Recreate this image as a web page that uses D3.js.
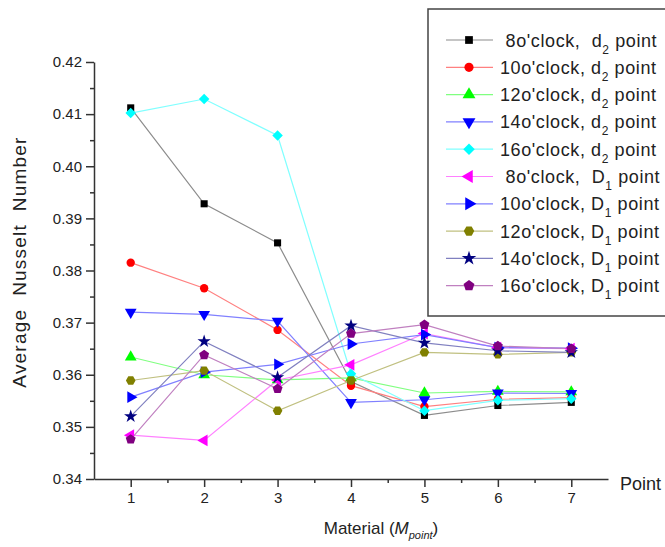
<!DOCTYPE html>
<html>
<head>
<meta charset="utf-8">
<script src="https://cdn.jsdelivr.net/npm/d3@7"></script>
<style>
  body { margin: 0; background: #fff; }
  text { font-family: "Liberation Sans", Arial, sans-serif; fill: #222; }
</style>
</head>
<body>
<div id="chart"></div>
<script>
// data
const points = [1, 2, 3, 4, 5, 6, 7];
const yTicks = [0.34, 0.35, 0.36, 0.37, 0.38, 0.39, 0.40, 0.41, 0.42];

const d2_8  = [0.4112, 0.3928, 0.3853, 0.3587, 0.3522, 0.3541, 0.3547];
const d2_10 = [0.3815, 0.3766, 0.3686, 0.3579, 0.3539, 0.3553, 0.3556];
const d2_12 = [0.3634, 0.3600, 0.3590, 0.3594, 0.3565, 0.3568, 0.3567];
const d2_14 = [0.3720, 0.3716, 0.3703, 0.3547, 0.3552, 0.3565, 0.3564];
const d2_16 = [0.4102, 0.4129, 0.4059, 0.3602, 0.3531, 0.3551, 0.3554];
const D1_8  = [0.3484, 0.3474, 0.3590, 0.3619, 0.3679, 0.3652, 0.3650];
const D1_10 = [0.3557, 0.3605, 0.3620, 0.3659, 0.3677, 0.3652, 0.3651];
const D1_12 = [0.3589, 0.3608, 0.3531, 0.3589, 0.3643, 0.3639, 0.3643];
const D1_14 = [0.3520, 0.3664, 0.3595, 0.3694, 0.3661, 0.3646, 0.3643];
const D1_16 = [0.3476, 0.3638, 0.3573, 0.3679, 0.3696, 0.3655, 0.3650];

// custom polygon symbols (hexagon, pentagon)
function polygon(n, rot) {
  return {
    draw(ctx, size) {
      const r = Math.sqrt(size / (0.5 * n * Math.sin(2 * Math.PI / n)));
      for (let i = 0; i < n; i++) {
        const a = rot + i * 2 * Math.PI / n;
        const px = r * Math.sin(a), py = -r * Math.cos(a);
        if (i === 0) ctx.moveTo(px, py); else ctx.lineTo(px, py);
      }
      ctx.closePath();
    }
  };
}

const series = [
  { hour: "8",  pt: "d", sub: "2", values: d2_8,  color: "#000000", line: "#8c8c8c", sym: d3.symbolSquare, rot: 0, size: 50 },
  { hour: "10", pt: "d", sub: "2", values: d2_10, color: "#ff0000", line: "#ff8080", sym: d3.symbolCircle, rot: 0, size: 55 },
  { hour: "12", pt: "d", sub: "2", values: d2_12, color: "#00ff00", line: "#80ff80", sym: d3.symbolTriangle, rot: 0, size: 60 },
  { hour: "14", pt: "d", sub: "2", values: d2_14, color: "#0000ff", line: "#8080ff", sym: d3.symbolTriangle, rot: 180, size: 60 },
  { hour: "16", pt: "d", sub: "2", values: d2_16, color: "#00ffff", line: "#80ffff", sym: d3.symbolSquare, rot: 45, size: 55 },
  { hour: "8",  pt: "D", sub: "1", values: D1_8,  color: "#ff00ff", line: "#ff80ff", sym: d3.symbolTriangle, rot: -90, size: 60 },
  { hour: "10", pt: "D", sub: "1", values: D1_10, color: "#0000ff", line: "#8080ff", sym: d3.symbolTriangle, rot: 90, size: 60 },
  { hour: "12", pt: "D", sub: "1", values: D1_12, color: "#808000", line: "#c0c080", sym: polygon(6, Math.PI / 6), rot: 0, size: 60 },
  { hour: "14", pt: "D", sub: "1", values: D1_14, color: "#000080", line: "#8080c0", sym: d3.symbolStar, rot: 0, size: 55 },
  { hour: "16", pt: "D", sub: "1", values: D1_16, color: "#800080", line: "#c080c0", sym: polygon(5, 0), rot: 0, size: 65 }
];

const W = 665, H = 547;
const svg = d3.select("#chart").append("svg")
  .attr("width", W).attr("height", H);

const x = d3.scaleLinear().domain([0.5, 7.5]).range([94, 608]);
const y = d3.scaleLinear().domain([0.34, 0.42]).range([479, 62]);

// axes
const axisColor = "#333";

const yMinor = d3.range(0.345, 0.42, 0.01);
svg.append("g")
  .attr("transform", "translate(94,0)")
  .call(d3.axisLeft(y).tickValues(yMinor).tickSize(4).tickFormat(""))
  .call(g => g.select(".domain").remove());

const yAxis = svg.append("g")
  .attr("transform", "translate(94,0)")
  .call(d3.axisLeft(y).tickValues(yTicks).tickSize(8).tickSizeOuter(0).tickPadding(4)
    .tickFormat(d3.format(".2f")));
yAxis.selectAll("text").attr("font-size", 15).attr("font-family", null);

const xMinor = d3.range(1.5, 7, 1);
svg.append("g")
  .attr("transform", "translate(0,479)")
  .call(d3.axisBottom(x).tickValues(xMinor).tickSize(4).tickFormat(""))
  .call(g => g.select(".domain").remove());

const xAxis = svg.append("g")
  .attr("transform", "translate(0,479)")
  .call(d3.axisBottom(x).tickValues(points).tickSize(8).tickSizeOuter(0).tickPadding(5)
    .tickFormat(d3.format("d")));
xAxis.selectAll("text").attr("font-size", 15).attr("font-family", null);

svg.selectAll(".domain, .tick line")
  .attr("stroke", axisColor).attr("stroke-width", 1.5);

// axis titles
svg.append("text")
  .attr("transform", "translate(26,262) rotate(-90)")
  .attr("text-anchor", "middle")
  .attr("font-size", 19)
  .attr("letter-spacing", 1.2)
  .style("white-space", "pre")
  .text("Average  Nusselt  Number");

svg.append("text")
  .attr("x", 620).attr("y", 490)
  .attr("font-size", 18)
  .text("Point");

const xt = svg.append("text")
  .attr("x", 381).attr("y", 534)
  .attr("text-anchor", "middle")
  .attr("font-size", 17);
xt.append("tspan").text("Material (");
xt.append("tspan").attr("font-style", "italic").text("M");
xt.append("tspan").attr("font-style", "italic").attr("font-size", 11).attr("dy", 5).text("point");
xt.append("tspan").attr("dy", -5).text(")");

// lines and markers
const line = d3.line().x((d, i) => x(points[i])).y(d => y(d));

series.forEach(s => {
  svg.append("path")
    .attr("d", line(s.values))
    .attr("fill", "none")
    .attr("stroke", s.line)
    .attr("stroke-width", 1.2);
});

series.forEach(s => {
  const sym = d3.symbol().type(s.sym).size(s.size);
  svg.append("g").selectAll("path")
    .data(s.values)
    .join("path")
    .attr("d", sym)
    .attr("transform", (d, i) => `translate(${x(points[i])},${y(d)}) rotate(${s.rot})`)
    .attr("fill", s.color);
});

// legend
const legend = svg.append("g");
legend.append("rect")
  .attr("x", 428).attr("y", 9)
  .attr("width", 260).attr("height", 307)
  .attr("fill", "#fff")
  .attr("stroke", "#444").attr("stroke-width", 1.5);

series.forEach((s, i) => {
  const ly = 40 + i * 27.3;
  legend.append("line")
    .attr("x1", 446).attr("x2", 493)
    .attr("y1", ly).attr("y2", ly)
    .attr("stroke", s.line).attr("stroke-width", 1.2);
  legend.append("path")
    .attr("d", d3.symbol().type(s.sym).size(s.size * 1.2)())
    .attr("transform", `translate(469,${ly}) rotate(${s.rot})`)
    .attr("fill", s.color);
  const t = legend.append("text")
    .attr("x", 500).attr("y", ly + 6.5)
    .attr("font-size", 18)
    .attr("letter-spacing", 0.6)
    .style("white-space", "pre");
  const lead = s.hour.length === 1 ? " " : "";
  const gap = s.hour.length === 1 ? "  " : " ";
  t.append("tspan").text(`${lead}${s.hour}o'clock,${gap}${s.pt}`);
  t.append("tspan").attr("font-size", 12).attr("dy", 7).text(s.sub);
  t.append("tspan").attr("dy", -7).text(" point");
});
</script>
</body>
</html>
